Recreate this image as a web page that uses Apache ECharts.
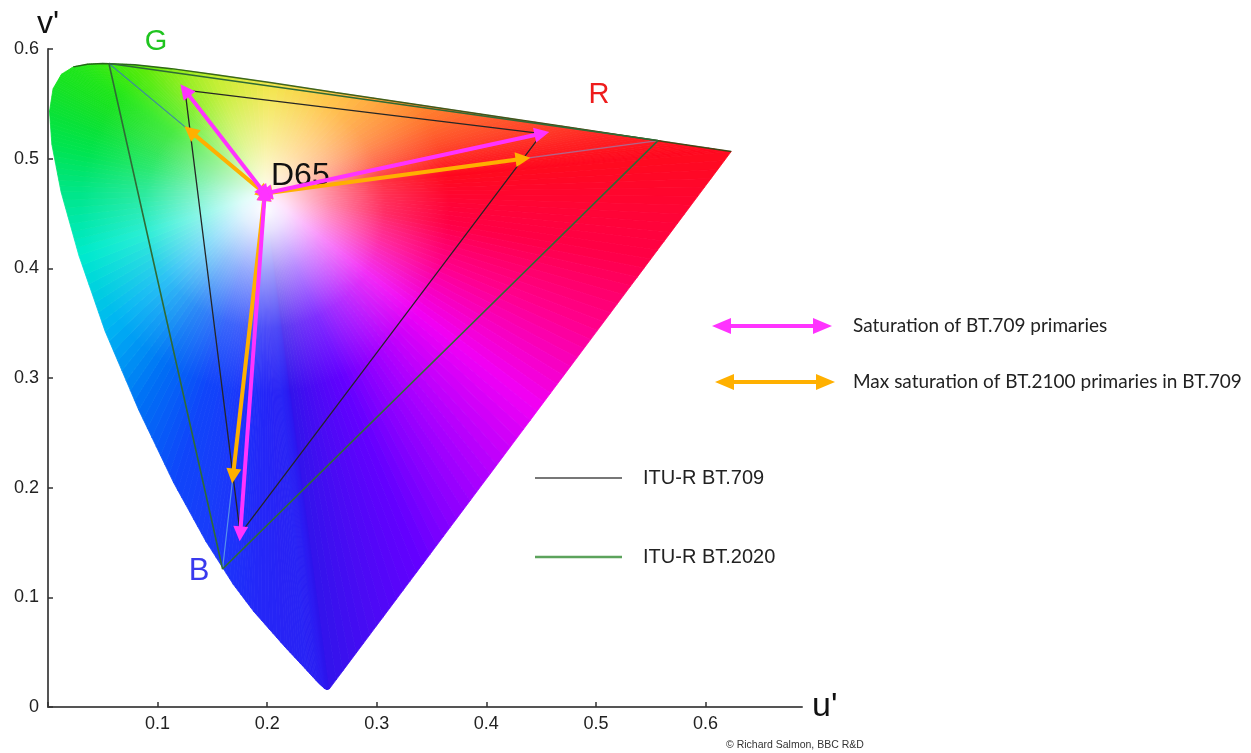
<!DOCTYPE html>
<html><head><meta charset="utf-8">
<script src="https://cdn.jsdelivr.net/npm/echarts@6/dist/echarts.min.js"></script>
<style>html,body{margin:0;padding:0;background:#fff}#c{width:1251px;height:753px}</style>
</head><body><div id="c"></div>
<script>
// ---- data ----
const wavelengths = [380,410,420,430,440,450,460,465,470,475,480,485,490,495,500,505,510,515,520,525,530,540,550,560,570,580,590,600,610,620,640,700];
const locusU = [0.2568,0.2545,0.2522,0.2461,0.2347,0.2161,0.1877,0.1690,0.1441,0.1147,0.0828,0.0521,0.0282,0.0119,0.0035,0.0014,0.0046,0.0123,0.0231,0.0360,0.0501,0.0792,0.1127,0.1531,0.2026,0.2623,0.3315,0.4035,0.4692,0.5203,0.5830,0.6234];
const locusV = [0.0166,0.0159,0.0169,0.0226,0.0350,0.0549,0.0871,0.1119,0.1510,0.2044,0.2708,0.3427,0.4117,0.4698,0.5131,0.5432,0.5638,0.5770,0.5837,0.5861,0.5868,0.5856,0.5821,0.5766,0.5694,0.5604,0.5501,0.5393,0.5296,0.5219,0.5125,0.5065];
const whitePoint = [0.1978, 0.4683];            // D65
const primaryNames = ['R','G','B'];
const bt709U = [0.4507, 0.1250, 0.1754];
const bt709V = [0.5229, 0.5625, 0.1579];
const bt2020U = [0.5566, 0.0556, 0.1593];
const bt2020V = [0.5165, 0.5868, 0.1258];
const maxSatU = [0.4334, 0.1297, 0.1688];       // BT.2100 primaries mapped onto BT.709 gamut edge
const maxSatV = [0.5000, 0.5251, 0.2106];
const xTickValues = [0.1,0.2,0.3,0.4,0.5,0.6];
const yTickValues = [0,0.1,0.2,0.3,0.4,0.5,0.6];

// ---- styles ----
const locusColors = ['#2d14eb','#2d16ec','#2d19f0','#2a1ef3','#2823f5','#2823f5','#2328f8','#1e30fa','#193cfa','#0f46fa','#006ef5','#00b4f3','#00ebcd','#00e687','#00e450','#0ae236','#14e228','#19e41e','#1ee619','#28e814','#37e90f','#55eb0a','#82ec0a','#beec14','#f0e128','#ffb928','#ff8c2d','#ff5f2d','#ff3c28','#ff2323','#ff0f1e','#ff051e'];
const purpleStops = [[0,'#ff0a1e'],[0.2,'#ff0046'],[0.33,'#ff008c'],[0.48,'#f000f5'],[0.62,'#aa00ff'],[0.77,'#6400ff'],[1,'#3214eb']];
const whiteStops = [[0,'rgba(255,255,255,1)'],[0.12,'rgba(255,255,255,0.88)'],[0.35,'rgba(255,255,255,0.55)'],[0.65,'rgba(255,255,255,0.18)'],[1,'rgba(255,255,255,0)']];
const GLOW_RADIUS = 185, GLOW_DY = 15;

function hexRgb(h){return [parseInt(h.slice(1,3),16),parseInt(h.slice(3,5),16),parseInt(h.slice(5,7),16)];}
function mix(c1,c2,t){const a=hexRgb(c1),b=hexRgb(c2);return 'rgb('+a.map((v,k)=>Math.round(v+(b[k]-v)*t)).join(',')+')';}
function stopColor(stops,t){for(let k=1;k<stops.length;k++){if(t<=stops[k][0]){const s0=stops[k-1],s1=stops[k];return mix(s0[1],s1[1],(t-s0[0])/(s1[0]-s0[0]));}}return stops[stops.length-1][1];}

const chart = echarts.init(document.getElementById('c'));
const N = locusU.length;
const tri = (U,V)=>[0,1,2,0].map(k=>[U[k],V[k]]);
const fmt = v => Math.round(v*10)/10;

const option = {
  backgroundColor:'#ffffff',
  animation:false,
  grid:{left:48, right:449, top:49, bottom:46},
  xAxis:{type:'value', min:0, max:0.688, interval:0.1,
    name:"u'", nameLocation:'end', nameGap:10,
    nameTextStyle:{fontSize:34, color:'#111', fontFamily:'Liberation Sans', align:'left', verticalAlign:'middle'},
    axisLine:{lineStyle:{color:'#555', width:2}},
    axisTick:{inside:true, length:5, lineStyle:{color:'#333', width:1.5}},
    axisLabel:{fontSize:18, color:'#222', fontFamily:'Liberation Sans', margin:8, showMaxLabel:false,
      formatter:v=>{const f=fmt(v); return xTickValues.indexOf(f)>=0 ? String(f) : '';}},
    splitLine:{show:false}},
  yAxis:{type:'value', min:0, max:0.6, interval:0.1,
    name:"v'", nameLocation:'end', nameGap:8,
    nameTextStyle:{fontSize:32, color:'#111', fontFamily:'Liberation Sans', align:'center', verticalAlign:'bottom'},
    axisLine:{show:true, lineStyle:{color:'#555', width:2}},
    axisTick:{show:true, inside:true, length:5, lineStyle:{color:'#333', width:1.5}},
    axisLabel:{fontSize:18, color:'#222', fontFamily:'Liberation Sans', margin:9,
      formatter:v=>{const f=fmt(v); return yTickValues.indexOf(f)>=0 ? String(f) : '';}},
    splitLine:{show:false}},
  series:[
    { type:'custom', name:'spectral locus fill', z:1, silent:true,
      data: locusU.map((u,i)=>[u, locusV[i], wavelengths[i]]),
      encode:{x:0, y:1},
      renderItem:function(params, api){
        const i = params.dataIndex, j = (i+1)%N;
        const c = api.coord(whitePoint);
        const a = api.coord([locusU[i], locusV[i]]);
        const b = api.coord([locusU[j], locusV[j]]);
        const purple = (j===0);
        const K = purple ? 60 : 8;
        const children = [];
        for (let k=0;k<K;k++){
          const t0=k/K, t1=(k+1)/K, tm=(k+0.5)/K;
          const p0=[a[0]+(b[0]-a[0])*t0, a[1]+(b[1]-a[1])*t0];
          const p1=[a[0]+(b[0]-a[0])*t1, a[1]+(b[1]-a[1])*t1];
          const col = purple ? stopColor(purpleStops, tm) : mix(locusColors[i], locusColors[j], tm);
          children.push({type:'polygon', shape:{points:[c,p0,p1]}, style:{fill:col, stroke:col, lineWidth:0.8}});
        }
        return {type:'group', children};
      }
    },
    { type:'custom', name:'white point glow', z:2, silent:true,
      data:[whitePoint], encode:{x:0, y:1},
      renderItem:function(params, api){
        const c = api.coord(whitePoint);
        const pts = locusU.map((u,k)=>api.coord([u, locusV[k]]));
        const g = new echarts.graphic.RadialGradient(c[0], c[1]+GLOW_DY, GLOW_RADIUS, whiteStops.map(s=>({offset:s[0], color:s[1]})), true);
        return {type:'polygon', shape:{points:pts}, style:{fill:g}};
      }
    },
    { type:'line', name:'locus edge', z:3, silent:true, symbol:'none',
      data: locusU.map((u,i)=>[u, locusV[i]]).slice(wavelengths.indexOf(520)),
      lineStyle:{color:'rgba(30,80,20,0.85)', width:1.5} },
    { type:'line', name:'ITU-R BT.2020', z:3, silent:true, symbol:'none',
      data: tri(bt2020U, bt2020V), lineStyle:{color:'#2f6b36', width:1.6} },
    { type:'line', name:'ITU-R BT.709', z:3, silent:true, symbol:'none',
      data: tri(bt709U, bt709V), lineStyle:{color:'#262626', width:1.3} },
    { type:'lines', name:'BT.2020 to BT.709 edge', coordinateSystem:'cartesian2d', z:3, silent:true,
      data:[0,1,2].map(k=>({coords:[[bt2020U[k],bt2020V[k]],[maxSatU[k],maxSatV[k]]],
        lineStyle:{color:['rgba(170,110,150,0.9)','rgba(60,130,170,0.9)','rgba(90,150,235,0.95)'][k]}})),
      lineStyle:{width:1.2, opacity:1} },
    { type:'lines', name:'Max saturation of BT.2100 primaries in BT.709', coordinateSystem:'cartesian2d', z:5, silent:true,
      symbol:['triangle','triangle'], symbolSize:15,
      data:[0,1,2].map(k=>({coords:[whitePoint,[maxSatU[k],maxSatV[k]]]})),
      lineStyle:{color:'#ffb000', width:4, opacity:1} },
    { type:'lines', name:'Saturation of BT.709 primaries', coordinateSystem:'cartesian2d', z:6, silent:true,
      symbol:['triangle','triangle'], symbolSize:15,
      data:[0,1,2].map(k=>({coords:[whitePoint,[bt709U[k],bt709V[k]]]})),
      lineStyle:{color:'#ff33ff', width:4, opacity:1} }
  ],
  graphic:[
    {type:'text', z:10, x:156, y:42, style:{text:'G', fontSize:29, fill:'#1fc41f', fontFamily:'Liberation Sans', align:'center', verticalAlign:'middle'}},
    {type:'text', z:10, x:599, y:95, style:{text:'R', fontSize:29, fill:'#ee1c1c', fontFamily:'Liberation Sans', align:'center', verticalAlign:'middle'}},
    {type:'text', z:10, x:199, y:571, style:{text:'B', fontSize:31, fill:'#3a3aee', fontFamily:'Liberation Sans', align:'center', verticalAlign:'middle'}},
    {type:'text', z:4, x:271, y:176, style:{text:'D65', fontSize:32, fill:'#111', fontFamily:'Liberation Sans', align:'left', verticalAlign:'middle'}},
    // legend: magenta arrow
    {type:'line', z:10, shape:{x1:727, y1:326, x2:817, y2:326}, style:{stroke:'#ff33ff', lineWidth:4}},
    {type:'polygon', z:10, shape:{points:[[712,326],[731,318],[731,334]]}, style:{fill:'#ff33ff'}},
    {type:'polygon', z:10, shape:{points:[[832,326],[813,318],[813,334]]}, style:{fill:'#ff33ff'}},
    {type:'text', z:10, x:853, y:326, style:{text:'Saturation of BT.709 primaries', fontSize:19, fill:'#222', fontFamily:'Lato', verticalAlign:'middle'}},
    // legend: orange arrow
    {type:'line', z:10, shape:{x1:730, y1:382, x2:820, y2:382}, style:{stroke:'#ffb000', lineWidth:4}},
    {type:'polygon', z:10, shape:{points:[[715,382],[734,374],[734,390]]}, style:{fill:'#ffb000'}},
    {type:'polygon', z:10, shape:{points:[[835,382],[816,374],[816,390]]}, style:{fill:'#ffb000'}},
    {type:'text', z:10, x:853, y:382, style:{text:'Max saturation of BT.2100 primaries in BT.709', fontSize:19, fill:'#222', fontFamily:'Lato', verticalAlign:'middle'}},
    // legend: gamut lines
    {type:'line', z:10, shape:{x1:535, y1:478, x2:622, y2:478}, style:{stroke:'#777', lineWidth:2}},
    {type:'text', z:10, x:643, y:478, style:{text:'ITU-R BT.709', fontSize:20, fill:'#222', fontFamily:'Liberation Sans', verticalAlign:'middle'}},
    {type:'line', z:10, shape:{x1:535, y1:557, x2:622, y2:557}, style:{stroke:'#5ca35c', lineWidth:2.5}},
    {type:'text', z:10, x:643, y:557, style:{text:'ITU-R BT.2020', fontSize:20, fill:'#222', fontFamily:'Liberation Sans', verticalAlign:'middle'}},
    {type:'text', z:10, x:726, y:745, style:{text:'© Richard Salmon, BBC R&D', fontSize:10.5, fill:'#333', fontFamily:'Liberation Sans', verticalAlign:'middle'}}
  ]
};
chart.setOption(option);
</script></body></html>
